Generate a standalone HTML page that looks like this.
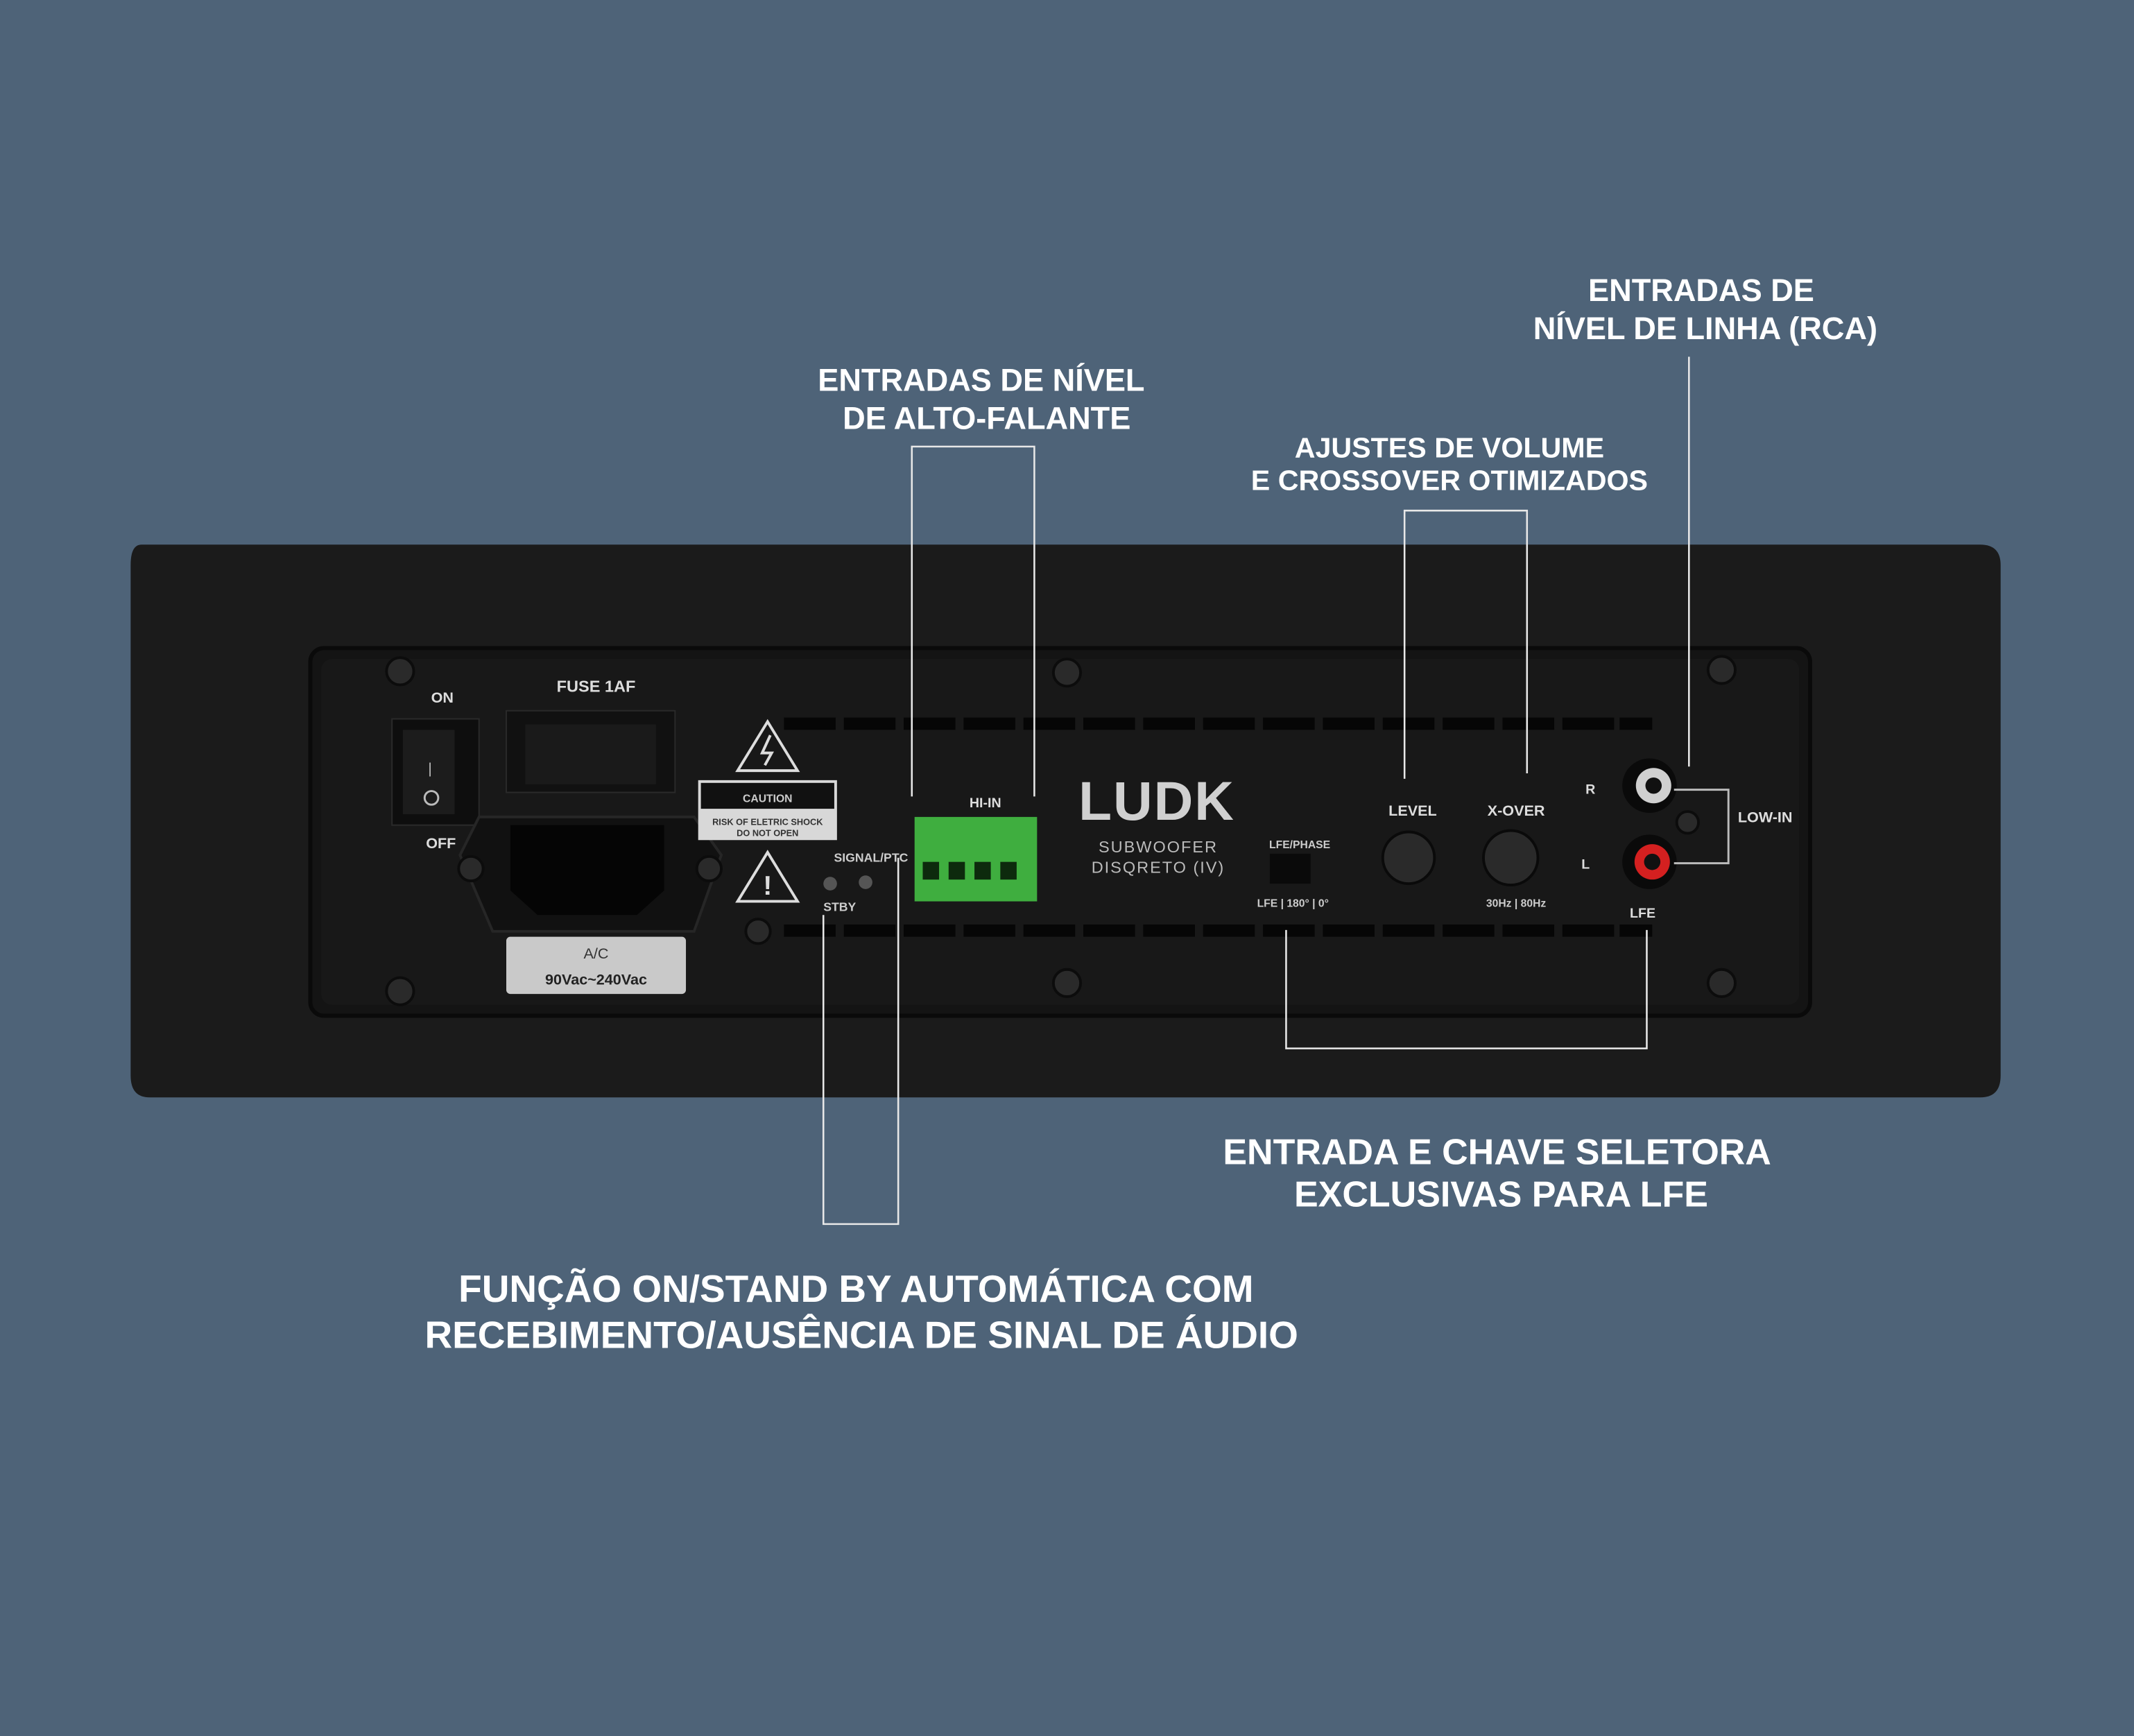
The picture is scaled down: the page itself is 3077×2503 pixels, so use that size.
<!DOCTYPE html>
<html><head><meta charset="utf-8"><style>
html,body{margin:0;padding:0;background:#4e6378;}
svg{display:block;width:3077px;height:2503px;}
text{font-family:"Liberation Sans","DejaVu Sans",sans-serif;}
</style></head><body>
<svg viewBox="0 0 1568 1275" preserveAspectRatio="none" xmlns="http://www.w3.org/2000/svg">
<rect width="1568" height="1275" fill="#4e6378"/>
<path d="M104 400 H1455 Q1470 400 1470 415 V790 Q1470 806 1455 806 H110 Q96 806 96 790 V415 Q96 400 104 400Z" fill="#1b1b1b"/>
<rect x="228" y="476" width="1102" height="270" rx="10" fill="#141414" stroke="#0a0a0a" stroke-width="3"/>
<rect x="236" y="484" width="1086" height="254" rx="8" fill="#181818"/>
<g fill="#060606">
<rect x="576" y="527" width="38" height="9"/><rect x="620" y="527" width="38" height="9"/><rect x="664" y="527" width="38" height="9"/><rect x="708" y="527" width="38" height="9"/><rect x="752" y="527" width="38" height="9"/><rect x="796" y="527" width="38" height="9"/><rect x="840" y="527" width="38" height="9"/><rect x="884" y="527" width="38" height="9"/><rect x="928" y="527" width="38" height="9"/><rect x="972" y="527" width="38" height="9"/><rect x="1016" y="527" width="38" height="9"/><rect x="1060" y="527" width="38" height="9"/><rect x="1104" y="527" width="38" height="9"/><rect x="1148" y="527" width="38" height="9"/><rect x="1190" y="527" width="24" height="9"/>
<rect x="576" y="679" width="38" height="9"/><rect x="620" y="679" width="38" height="9"/><rect x="664" y="679" width="38" height="9"/><rect x="708" y="679" width="38" height="9"/><rect x="752" y="679" width="38" height="9"/><rect x="796" y="679" width="38" height="9"/><rect x="840" y="679" width="38" height="9"/><rect x="884" y="679" width="38" height="9"/><rect x="928" y="679" width="38" height="9"/><rect x="972" y="679" width="38" height="9"/><rect x="1016" y="679" width="38" height="9"/><rect x="1060" y="679" width="38" height="9"/><rect x="1104" y="679" width="38" height="9"/><rect x="1148" y="679" width="38" height="9"/><rect x="1190" y="679" width="24" height="9"/>
</g>
<g fill="#2a2a2a" stroke="#0c0c0c" stroke-width="2">
<circle cx="294" cy="493" r="10"/><circle cx="784" cy="494" r="10"/><circle cx="1265" cy="492" r="10"/>
<circle cx="294" cy="728" r="10"/><circle cx="784" cy="722" r="10"/><circle cx="1265" cy="722" r="10"/>
<circle cx="557" cy="684" r="9"/><circle cx="1240" cy="604" r="8"/>
</g>
<rect x="288" y="528" width="64" height="78" fill="#0e0e0e" stroke="#2a2a2a"/>
<rect x="296" y="536" width="38" height="62" fill="#1c1c1c"/>
<text x="316" y="568" fill="#bbb" font-size="11" text-anchor="middle">|</text>
<circle cx="317" cy="586" r="5" fill="none" stroke="#bbb" stroke-width="1.5"/>
<text x="325" y="516" fill="#ddd" font-size="11" font-weight="bold" text-anchor="middle">ON</text>
<text x="324" y="623" fill="#ddd" font-size="11" font-weight="bold" text-anchor="middle">OFF</text>
<text x="438" y="508" fill="#ddd" font-size="12" font-weight="bold" text-anchor="middle">FUSE 1AF</text>
<rect x="372" y="522" width="124" height="60" fill="#111" stroke="#2a2a2a"/>
<rect x="386" y="532" width="96" height="44" fill="#1a1a1a"/>
<path d="M352 600 H510 L530 628 L510 684 H362 L338 628Z" fill="#111" stroke="#262626" stroke-width="2"/>
<circle cx="346" cy="638" r="9" fill="#2a2a2a" stroke="#0c0c0c" stroke-width="2"/>
<circle cx="521" cy="638" r="9" fill="#2a2a2a" stroke="#0c0c0c" stroke-width="2"/>
<path d="M375 606 H488 V654 L468 672 H395 L375 654Z" fill="#050505"/>
<rect x="372" y="688" width="132" height="42" rx="3" fill="#c9c9c9"/>
<text x="438" y="704" fill="#333" font-size="11" text-anchor="middle">A/C</text>
<text x="438" y="723" fill="#222" font-size="11" font-weight="bold" text-anchor="middle">90Vac~240Vac</text>
<path d="M564 530 L586 566 H542Z" fill="none" stroke="#ddd" stroke-width="2"/>
<path d="M566 540 L560 553 H567 L562 562" fill="none" stroke="#ddd" stroke-width="2"/>
<rect x="513" y="573" width="102" height="44" fill="#d8d8d8"/>
<rect x="515" y="575" width="98" height="19" fill="#111"/>
<text x="564" y="589" fill="#ccc" font-size="8" font-weight="bold" text-anchor="middle">CAUTION</text>
<text x="564" y="606" fill="#333" font-size="6.5" font-weight="bold" text-anchor="middle">RISK OF ELETRIC SHOCK</text>
<text x="564" y="614" fill="#333" font-size="6.5" font-weight="bold" text-anchor="middle">DO NOT OPEN</text>
<path d="M564 626 L586 662 H542Z" fill="none" stroke="#ddd" stroke-width="2"/>
<text x="564" y="657" fill="#ddd" font-size="20" font-weight="bold" text-anchor="middle">!</text>
<text x="640" y="633" fill="#ccc" font-size="9" font-weight="bold" text-anchor="middle">SIGNAL/PTC</text>
<circle cx="610" cy="649" r="5" fill="#555"/><circle cx="636" cy="648" r="5" fill="#555"/>
<text x="617" y="669" fill="#ccc" font-size="9" font-weight="bold" text-anchor="middle">STBY</text>
<text x="724" y="593" fill="#ddd" font-size="10" font-weight="bold" text-anchor="middle">HI-IN</text>
<rect x="672" y="600" width="90" height="62" fill="#3fae3f"/>
<g fill="#0d2a0d"><rect x="678" y="633" width="12" height="13"/><rect x="697" y="633" width="12" height="13"/><rect x="716" y="633" width="12" height="13"/><rect x="735" y="633" width="12" height="13"/></g>
<text x="850" y="602" fill="#d0d0d0" font-size="40" font-weight="bold" text-anchor="middle" letter-spacing="1">LUDK</text>
<text x="851" y="626" fill="#bbb" font-size="12" text-anchor="middle" letter-spacing="1">SUBWOOFER</text>
<text x="851" y="641" fill="#bbb" font-size="12" text-anchor="middle" letter-spacing="1">DISQRETO (IV)</text>
<text x="955" y="623" fill="#ccc" font-size="8" font-weight="bold" text-anchor="middle">LFE/PHASE</text>
<rect x="933" y="627" width="30" height="22" fill="#0a0a0a"/>
<text x="950" y="666" fill="#ccc" font-size="8" font-weight="bold" text-anchor="middle">LFE | 180° | 0°</text>
<text x="1038" y="599" fill="#ddd" font-size="11" font-weight="bold" text-anchor="middle">LEVEL</text>
<text x="1114" y="599" fill="#ddd" font-size="11" font-weight="bold" text-anchor="middle">X-OVER</text>
<circle cx="1035" cy="630" r="19" fill="#2a2a2a" stroke="#0a0a0a" stroke-width="2"/>
<circle cx="1110" cy="630" r="20" fill="#2a2a2a" stroke="#0a0a0a" stroke-width="2"/>
<text x="1114" y="666" fill="#ccc" font-size="8" font-weight="bold" text-anchor="middle">30Hz | 80Hz</text>
<text x="1165" y="583" fill="#ddd" font-size="10" font-weight="bold">R</text>
<text x="1162" y="638" fill="#ddd" font-size="10" font-weight="bold">L</text>
<circle cx="1212" cy="577" r="20" fill="#0a0a0a"/><circle cx="1215" cy="577" r="13" fill="#d0d0d0"/><circle cx="1215" cy="577" r="6" fill="#111"/>
<circle cx="1212" cy="633" r="20" fill="#0a0a0a"/><circle cx="1214" cy="633" r="13" fill="#d42020"/><circle cx="1214" cy="633" r="6" fill="#111"/>
<path d="M1230 580 H1270 V634 H1230" fill="none" stroke="#bbb" stroke-width="1.5"/>
<text x="1297" y="604" fill="#ddd" font-size="11" font-weight="bold" text-anchor="middle">LOW-IN</text>
<text x="1207" y="674" fill="#ddd" font-size="10" font-weight="bold" text-anchor="middle">LFE</text>
<g stroke="#e8e8e8" stroke-width="1.3" fill="none">
<path d="M670 585 V328 H760 V585"/>
<path d="M1032 572 V375 H1122 V568"/>
<path d="M1241 262 V563"/>
<path d="M945 683 V770 H1210 V683"/>
<path d="M605 672 V899 H660 V630"/>
</g>
<g fill="#ffffff" font-weight="bold" text-anchor="middle">
<text x="721" y="287" font-size="23">ENTRADAS DE NÍVEL</text>
<text x="725" y="315" font-size="23">DE ALTO-FALANTE</text>
<text x="1250" y="221" font-size="23">ENTRADAS DE</text>
<text x="1253" y="249" font-size="23">NÍVEL DE LINHA (RCA)</text>
<text x="1065" y="336" font-size="21">AJUSTES DE VOLUME</text>
<text x="1065" y="360" font-size="21">E CROSSOVER OTIMIZADOS</text>
<text x="1100" y="855" font-size="26.5">ENTRADA E CHAVE SELETORA</text>
<text x="1103" y="886" font-size="26.5">EXCLUSIVAS PARA LFE</text>
<text x="629" y="956" font-size="28">FUNÇÃO ON/STAND BY AUTOMÁTICA COM</text>
<text x="633" y="990" font-size="28">RECEBIMENTO/AUSÊNCIA DE SINAL DE ÁUDIO</text>
</g>
</svg>
</body></html>
